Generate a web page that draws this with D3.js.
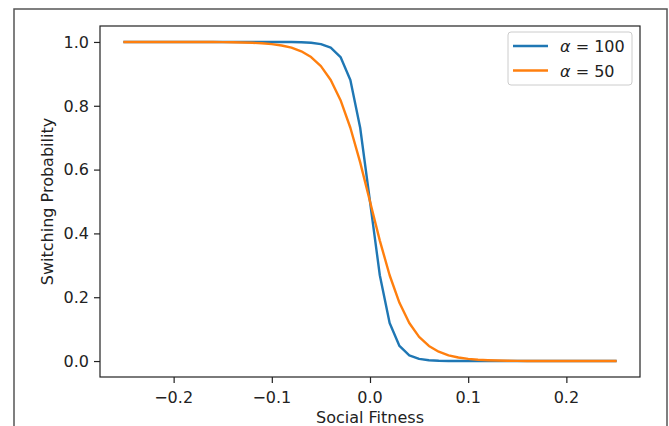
<!DOCTYPE html>
<html>
<head>
<meta charset="utf-8">
<script src="https://cdn.jsdelivr.net/npm/d3@7/dist/d3.min.js"></script>
<style>
  body { margin: 0; background: #fff; }
  svg { display: block; font-family: "DejaVu Sans", sans-serif; }
</style>
</head>
<body>
<svg width="669" height="426"></svg>
<script>
// social fitness values (x)
const fitness = [-0.25, -0.24, -0.23, -0.22, -0.21, -0.20, -0.19, -0.18, -0.17, -0.16,
  -0.15, -0.14, -0.13, -0.12, -0.11, -0.10, -0.09, -0.08, -0.07, -0.06,
  -0.05, -0.04, -0.03, -0.02, -0.01, 0.00, 0.01, 0.02, 0.03, 0.04,
  0.05, 0.06, 0.07, 0.08, 0.09, 0.10, 0.11, 0.12, 0.13, 0.14,
  0.15, 0.16, 0.17, 0.18, 0.19, 0.20, 0.21, 0.22, 0.23, 0.24, 0.25];

// switching probability, alpha = 100
const alpha100 = [1, 1, 1, 1, 1, 1, 1, 1, 1, 1,
  1, 1, 1, 1, 1, 1, 0.9999, 0.9997, 0.9991, 0.9975,
  0.9933, 0.982, 0.9526, 0.8808, 0.7311, 0.5, 0.2689, 0.1192, 0.0474, 0.018,
  0.0067, 0.0025, 0.0009, 0.0003, 0.0001, 0, 0, 0, 0, 0,
  0, 0, 0, 0, 0, 0, 0, 0, 0, 0, 0];

// switching probability, alpha = 50
const alpha50 = [1, 1, 1, 1, 1, 1, 0.9999, 0.9999, 0.9998, 0.9997,
  0.9994, 0.9991, 0.9985, 0.9975, 0.9959, 0.9933, 0.989, 0.982, 0.9707, 0.9526,
  0.9241, 0.8808, 0.8176, 0.7311, 0.6225, 0.5, 0.3775, 0.2689, 0.1824, 0.1192,
  0.0759, 0.0474, 0.0293, 0.018, 0.011, 0.0067, 0.0041, 0.0025, 0.0015, 0.0009,
  0.0006, 0.0003, 0.0002, 0.0001, 0.0001, 0, 0, 0, 0, 0, 0];

const xTicks = [-0.2, -0.1, 0.0, 0.1, 0.2];
const yTicks = [0.0, 0.2, 0.4, 0.6, 0.8, 1.0];
const seriesNames = ['100', '50'];
const colors = ['#1f77b4', '#ff7f0e'];

const svg = d3.select('svg');
const margin = { top: 26, right: 29, bottom: 49, left: 100 };
const innerWidth = 669 - margin.left - margin.right;
const innerHeight = 426 - margin.top - margin.bottom;

// outer figure border (bottom edge is off the page)
svg.append('path')
    .attr('d', 'M14,426 V9 H667 V426')
    .attr('fill', 'none')
    .attr('stroke', '#555')
    .attr('stroke-width', 1.5);

const xScale = d3.scaleLinear().domain([-0.275, 0.275]).range([0, innerWidth]);
const yScale = d3.scaleLinear().domain([-0.05, 1.05]).range([innerHeight, 0]);

const g = svg.append('g')
    .attr('transform', `translate(${margin.left},${margin.top})`);

const fmt = d => d3.format('.1f')(d).replace('-', '\u2212');

// tick marks via d3 axes, labels added as plain text
const xAxisG = g.append('g')
    .attr('transform', `translate(0,${innerHeight})`)
    .call(d3.axisBottom(xScale).tickValues(xTicks).tickSize(6).tickFormat(''));
const yAxisG = g.append('g')
    .call(d3.axisLeft(yScale).tickValues(yTicks).tickSize(6).tickFormat(''));
[xAxisG, yAxisG].forEach(a => {
    a.select('.domain').remove();
    a.selectAll('.tick line').attr('stroke', '#222').attr('stroke-width', 1.2);
    a.selectAll('.tick text').remove();
});

g.selectAll('.xlabel').data(xTicks)
    .enter().append('text')
        .attr('class', 'xlabel')
        .attr('x', d => xScale(d))
        .attr('y', innerHeight + 26)
        .attr('text-anchor', 'middle')
        .attr('font-size', 16)
        .attr('fill', '#222')
        .text(fmt);

g.selectAll('.ylabel').data(yTicks)
    .enter().append('text')
        .attr('class', 'ylabel')
        .attr('x', -11)
        .attr('y', d => yScale(d))
        .attr('dy', '0.36em')
        .attr('text-anchor', 'end')
        .attr('font-size', 16)
        .attr('fill', '#222')
        .text(fmt);

const line = values => d3.line()
    .x((d, i) => xScale(fitness[i]))
    .y(d => yScale(d))(values);

[alpha100, alpha50].forEach((vals, i) => {
    g.append('path')
        .attr('d', line(vals))
        .attr('fill', 'none')
        .attr('stroke', colors[i])
        .attr('stroke-width', 2.4)
        .attr('stroke-linejoin', 'round')
        .attr('stroke-linecap', 'square');
});

// plot frame
g.append('rect')
    .attr('width', innerWidth).attr('height', innerHeight)
    .attr('fill', 'none')
    .attr('stroke', '#222')
    .attr('stroke-width', 1.2);

// axis labels
svg.append('text')
    .attr('x', margin.left + innerWidth / 2)
    .attr('y', 423)
    .attr('text-anchor', 'middle')
    .attr('font-size', 16)
    .attr('fill', '#222')
    .text('Social Fitness');

svg.append('text')
    .attr('transform', `translate(53,${margin.top + innerHeight / 2}) rotate(-90)`)
    .attr('text-anchor', 'middle')
    .attr('font-size', 16)
    .attr('fill', '#222')
    .text('Switching Probability');

// legend
const legend = svg.append('g');
legend.append('rect')
    .attr('x', 508).attr('y', 32)
    .attr('width', 124).attr('height', 53)
    .attr('rx', 3)
    .attr('fill', '#fff').attr('fill-opacity', 0.8)
    .attr('stroke', '#ccc');

seriesNames.forEach((name, i) => {
    const cy = 46 + i * 24.5;
    legend.append('line')
        .attr('x1', 513).attr('x2', 548)
        .attr('y1', cy).attr('y2', cy)
        .attr('stroke', colors[i])
        .attr('stroke-width', 2.4);
    const t = legend.append('text')
        .attr('x', 560).attr('y', cy + 6)
        .attr('font-size', 16)
        .attr('fill', '#222');
    t.append('tspan').attr('font-style', 'italic').text('\u03b1');
    t.append('tspan').text(' = ' + name);
});
</script>
</body>
</html>
